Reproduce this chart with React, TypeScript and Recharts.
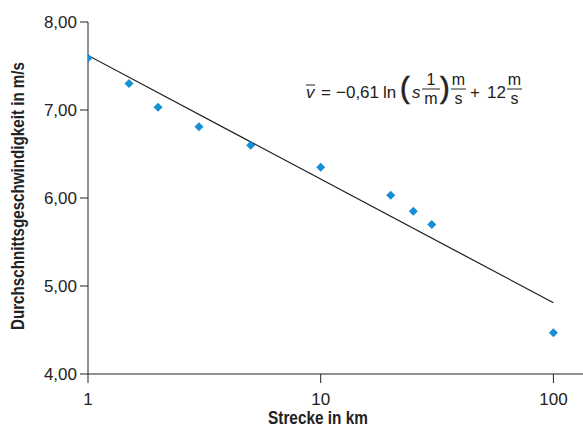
import React from 'react';
import { ScatterChart, Scatter, XAxis, YAxis, Customized } from 'recharts';

const strecke = [1, 1.5, 2, 3, 5, 10, 20, 25, 30, 100];
const geschwindigkeit = [7.59, 7.3, 7.03, 6.81, 6.6, 6.35, 6.03, 5.85, 5.7, 4.47];
const fitStrecke = [1, 100];
const fitWerte = [7.62, 4.81];
const xTicks = [1, 10, 100];
const yTicks = [4, 5, 6, 7, 8];

const points = strecke.map((s, i) => ({ x: s, y: geschwindigkeit[i] }));
const fitLine = fitStrecke.map((s, i) => ({ x: s, y: fitWerte[i] }));

const ink = '#222';
const blue = '#168fd6';
const sans = '"Liberation Sans", Arial, sans-serif';

// Rotated square marker
const Diamond = (props: any) => {
    const { cx, cy } = props;
    const r = 4.5;
    return <path d={`M${cx},${cy - r}L${cx + r},${cy}L${cx},${cy + r}L${cx - r},${cy}Z`} fill={blue} />;
};

const NoDot = () => <g />;

const fmt = (v: number) => v.toFixed(2).replace('.', ',');

const Frac = ({ cx, top, bottom, half }: { cx: number; top: string; bottom: string; half: number }) => (
    <g>
        <text x={cx} y={85} fontSize={16} textAnchor="middle">{top}</text>
        <line x1={cx - half} x2={cx + half} y1={89} y2={89} stroke={ink} strokeWidth={1} />
        <text x={cx} y={104} fontSize={16} textAnchor="middle">{bottom}</text>
    </g>
);

// Formula and axis titles (condensed look via textLength)
const Annotations = () => (
    <g fill={ink} fontFamily={sans}>
        <text x={18} y={196} transform="rotate(-90 18 196)" textAnchor="middle" dominantBaseline="central"
            fontWeight="bold" fontSize={18} textLength={268} lengthAdjust="spacingAndGlyphs">
            Durchschnittsgeschwindigkeit in m/s
        </text>
        <text x={318} y={424} textAnchor="middle" fontWeight="bold" fontSize={18}
            textLength={100} lengthAdjust="spacingAndGlyphs">
            Strecke in km
        </text>

        <text x={306} y={98} fontSize={17} fontStyle="italic">v</text>
        <line x1={306} x2={315} y1={85} y2={85} stroke={ink} strokeWidth={1} />
        <text x={321} y={98} fontSize={17}>=</text>
        <text x={336} y={98} fontSize={17}>−0,61</text>
        <text x={383} y={98} fontSize={17}>ln</text>
        <text x={400} y={98} fontSize={29} stroke={ink} strokeWidth={0.6}>(</text>
        <text x={412} y={98} fontSize={17} fontStyle="italic">s</text>
        <Frac cx={431} top="1" bottom="m" half={9} />
        <text x={440} y={98} fontSize={29} stroke={ink} strokeWidth={0.6}>)</text>
        <Frac cx={458.5} top="m" bottom="s" half={7.5} />
        <text x={470} y={98} fontSize={17}>+</text>
        <text x={487} y={98} fontSize={17}>12</text>
        <Frac cx={514.5} top="m" bottom="s" half={7.5} />
    </g>
);

export default function App() {
    return (
        <div style={{ position: 'absolute', left: 0, top: 0, background: '#fff' }}>
            <ScatterChart width={583} height={428} margin={{ top: 22, right: 0, bottom: 0, left: 0 }}>
                <XAxis
                    type="number"
                    dataKey="x"
                    scale="log"
                    domain={[1, 134]}
                    ticks={xTicks}
                    allowDataOverflow
                    height={54}
                    tickSize={9}
                    tickMargin={10}
                    stroke={ink}
                    tick={{ fill: ink, fontSize: 17, fontFamily: sans }}
                />
                <YAxis
                    type="number"
                    dataKey="y"
                    domain={[4, 8]}
                    ticks={yTicks}
                    width={88}
                    tickSize={8}
                    tickMargin={3}
                    tickFormatter={fmt}
                    stroke={ink}
                    tick={{ fill: ink, fontSize: 17, fontFamily: sans }}
                />
                <Scatter data={fitLine} line={{ stroke: '#1a1a1a', strokeWidth: 1.2 }} shape={NoDot} isAnimationActive={false} />
                <Scatter data={points} shape={Diamond} isAnimationActive={false} />
                <Customized component={Annotations} />
            </ScatterChart>
        </div>
    );
}
